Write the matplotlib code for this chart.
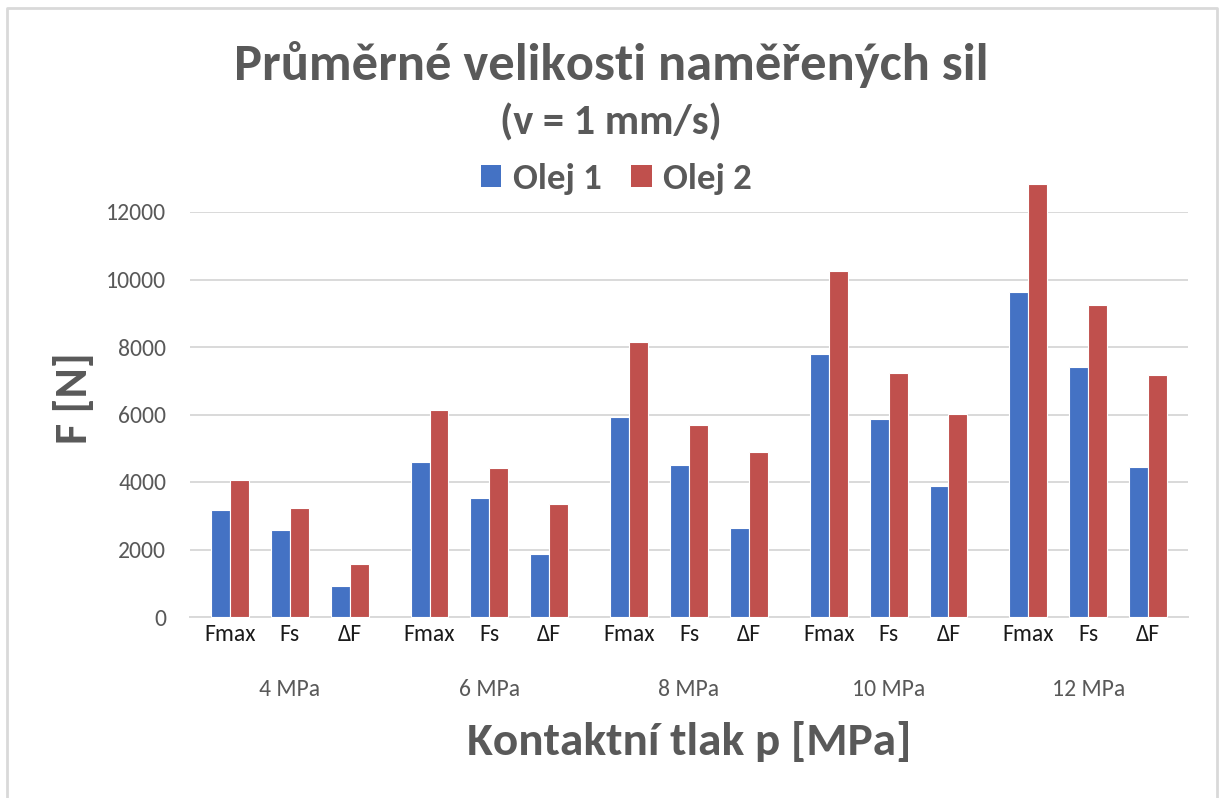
import numpy as np
import matplotlib
matplotlib.use("Agg")
import matplotlib.pyplot as plt
from matplotlib.lines import Line2D
from matplotlib.patches import Patch
import matplotlib.transforms as mtransforms

plt.rcParams['font.family'] = ['Carlito', 'DejaVu Sans']

# Data
pressures = ["4 MPa", "6 MPa", "8 MPa", "10 MPa", "12 MPa"]
quantities = ["Fmax", "Fs", "ΔF"]
olej1 = [3170, 2570, 910,
         4580, 3520, 1870,
         5930, 4510, 2650,
         7800, 5860, 3880,
         9630, 7410, 4455]
olej2 = [4050, 3230, 1560,
         6120, 4420, 3360,
         8135, 5685, 4895,
         10250, 7230, 6015,
         12840, 9235, 7175]
series_names = ["Olej 1", "Olej 2"]
colors = ["#4472C4", "#C0504D"]
yticks = [0, 2000, 4000, 6000, 8000, 10000, 12000]

W, H = 1222, 798
fig = plt.figure(figsize=(W / 100, H / 100), dpi=100)
ax = fig.add_axes([190 / W, 1 - 617 / H, 998 / W, 405 / H])

# category positions: three per pressure group
offsets = np.array([2.0, 5.0, 8.0])
x = np.concatenate([g * 10 + offsets for g in range(len(pressures))])
bw = 0.95
ax.bar(x - bw / 2, olej1, bw, color=colors[0], edgecolor="white", linewidth=0.8,
       zorder=3, clip_on=False)
ax.bar(x + bw / 2, olej2, bw, color=colors[1], edgecolor="white", linewidth=0.8,
       zorder=3, clip_on=False)

ax.set_xlim(0, 50)
ax.set_ylim(0, 12000)
ax.set_yticks(yticks)
ax.set_yticklabels([str(v) for v in yticks])
ax.yaxis.grid(True, color="#d9d9d9", linewidth=1.4, zorder=0)
ax.set_axisbelow(True)
for s in ["top", "right", "left"]:
    ax.spines[s].set_visible(False)
ax.spines["bottom"].set_color("#d9d9d9")
ax.spines["bottom"].set_linewidth(1.4)
ax.tick_params(axis="y", length=0, pad=17, labelsize=17, labelcolor="#595959")
ax.set_xticks(x)
ax.set_xticklabels(quantities * len(pressures))
ax.tick_params(axis="x", length=0, pad=5, labelsize=17, labelcolor="#1a1a1a")

# pressure group labels below the category labels
trans = mtransforms.blended_transform_factory(ax.transData, ax.transAxes)
for g, p in enumerate(pressures):
    ax.text(g * 10 + 5, -0.178, p, transform=trans, ha="center", va="center",
            fontsize=17, color="#595959")

# titles
fig.text(611 / W, 1 - 80 / H, "Průměrné velikosti naměřených sil", ha="center",
         va="baseline", fontsize=37.8, fontweight="bold", color="#595959")
fig.text(611 / W, 1 - 135 / H, "(v = 1 mm/s)", ha="center", va="baseline",
         fontsize=30.5, fontweight="bold", color="#595959")

# legend
handles = [Patch(facecolor=c, edgecolor="none") for c in colors]
leg = fig.legend(handles, series_names, loc="center", ncol=2,
                 bbox_to_anchor=(616 / W, 1 - 179 / H), frameon=False,
                 prop={"size": 26.5, "weight": "bold"}, handlelength=0.57,
                 handleheight=0.57, handletextpad=0.3, columnspacing=0.8)
for t in leg.get_texts():
    t.set_color("#595959")

# axis titles
fig.text(689 / W, 1 - 741 / H, "Kontaktní tlak p [MPa]", ha="center", va="center",
         fontsize=34, fontweight="bold", color="#595959")
fig.text(74 / W, 1 - 398 / H, "F [N]", ha="center", va="center", rotation=90,
         fontsize=33, fontweight="bold", color="#595959")

# chart border
bc = "#d9d9d9"
fig.add_artist(Line2D([7 / W, 7 / W, 1217 / W, 1217 / W],
                      [0, 1 - 8 / H, 1 - 8 / H, 0],
                      transform=fig.transFigure, color=bc, linewidth=2))

fig.savefig("out.png", dpi=100, facecolor="white")
